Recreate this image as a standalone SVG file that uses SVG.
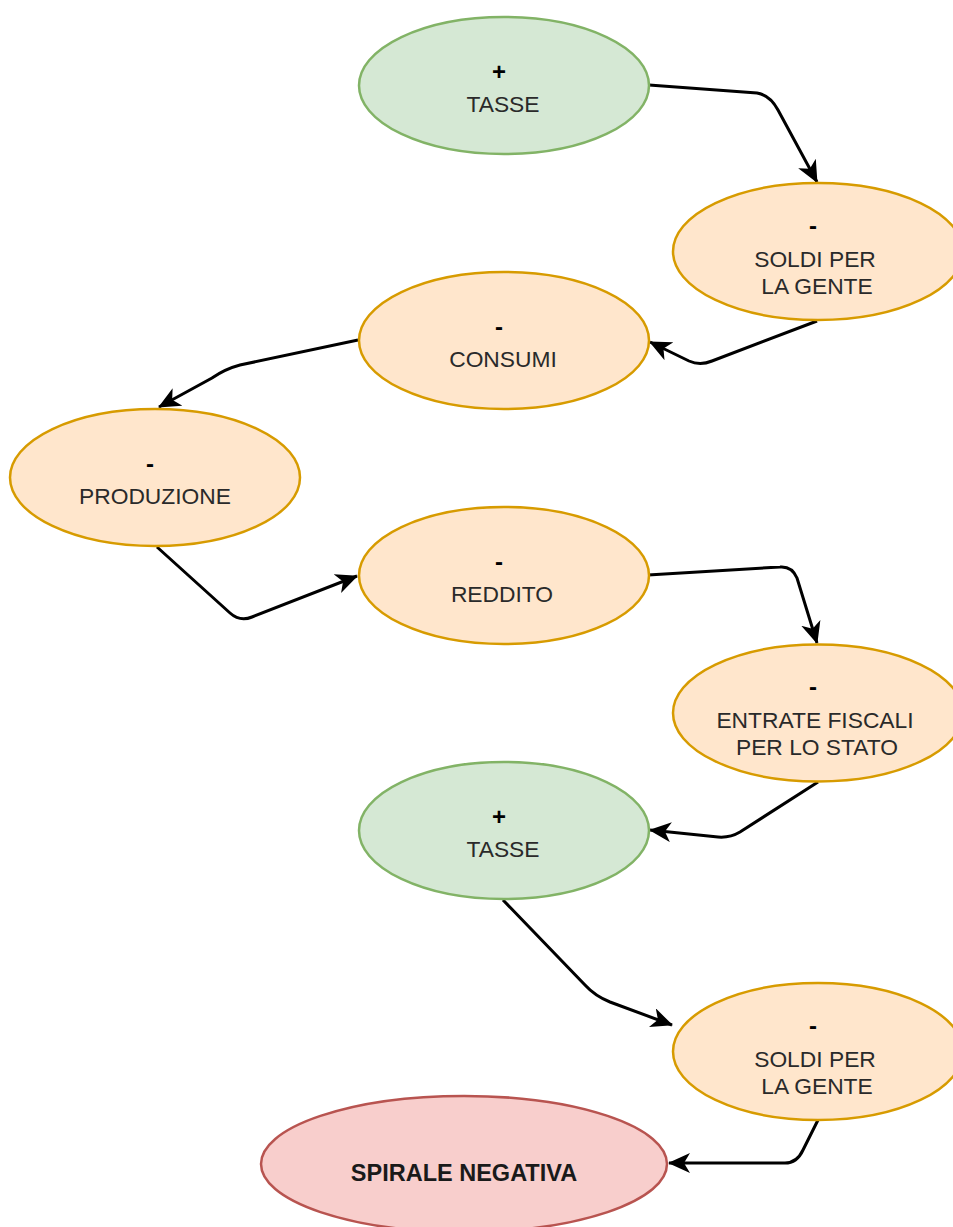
<svg xmlns="http://www.w3.org/2000/svg" width="953" height="1227" viewBox="0 0 953 1227">
<style>
.g{fill:#d5e8d4;stroke:#82b366;stroke-width:2.5}
.o{fill:#ffe6cc;stroke:#d79b00;stroke-width:2.5}
.r{fill:#f8cecc;stroke:#b85450;stroke-width:2.5}
.t{font-family:"Liberation Sans",Arial,sans-serif;font-size:22.8px;fill:#2a2a2a;text-anchor:middle}
.s{font-family:"Liberation Sans",Arial,sans-serif;font-size:24px;font-weight:bold;fill:#000;text-anchor:middle}
.b{font-family:"Liberation Sans",Arial,sans-serif;font-size:23.5px;font-weight:bold;fill:#1a1a1a;text-anchor:middle}
.e{fill:none;stroke:#000;stroke-width:3;marker-end:url(#a)}
</style>
<defs>
<marker id="a" markerUnits="userSpaceOnUse" viewBox="0 0 22 20" refX="21" refY="10" markerWidth="22" markerHeight="20" orient="auto">
<path d="M0,0 L22,10 L0,20 L6,10 Z" fill="#000"/>
</marker>
</defs>
<g id="connectors">
<path class="e" d="M649,85 L757,93 Q770,95 778,110 L817,182"/>
<path class="e" d="M817,321 L712,361 Q700,366 689,361 L650,342"/>
<path class="e" d="M358,340 L240,365 Q225,369 212,378 L159,407"/>
<path class="e" d="M157,547 L230,613 Q240,622 252,617 L357,576"/>
<path class="e" d="M648,575 L780,567 Q792,566 797,578 L817,643"/>
<path class="e" d="M818,782 L740,832 Q730,838 718,837 L650,830"/>
<path class="e" d="M503,900 L585,985 Q595,996 610,1002 L672,1025"/>
<path class="e" d="M818,1120 L803,1150 Q797,1163 785,1163 L669,1163"/>
</g>
<g id="n1"><ellipse class="g" cx="504" cy="85.5" rx="145" ry="68.5"/><text class="s" x="499" y="80">+</text><text class="t" x="503" y="111.5">TASSE</text></g>
<g id="n2"><ellipse class="o" cx="818" cy="251.5" rx="145" ry="68.5"/><text class="s" x="813" y="233.5">-</text><text class="t" x="815" y="266.5">SOLDI PER</text><text class="t" x="817" y="293.5">LA GENTE</text></g>
<g id="n3"><ellipse class="o" cx="504" cy="340.5" rx="145" ry="68.5"/><text class="s" x="499" y="334.5">-</text><text class="t" x="503" y="367">CONSUMI</text></g>
<g id="n4"><ellipse class="o" cx="155" cy="477.5" rx="145" ry="68.5"/><text class="s" x="150" y="471.5">-</text><text class="t" x="155" y="504">PRODUZIONE</text></g>
<g id="n5"><ellipse class="o" cx="504" cy="575.5" rx="145" ry="68.5"/><text class="s" x="499" y="569.5">-</text><text class="t" x="502" y="602">REDDITO</text></g>
<g id="n6"><ellipse class="o" cx="818" cy="713" rx="145" ry="68.5"/><text class="s" x="813" y="695">-</text><text class="t" x="815" y="728">ENTRATE FISCALI</text><text class="t" x="817" y="755">PER LO STATO</text></g>
<g id="n7"><ellipse class="g" cx="504" cy="830.5" rx="145" ry="68.5"/><text class="s" x="499" y="825">+</text><text class="t" x="503" y="856.5">TASSE</text></g>
<g id="n8"><ellipse class="o" cx="818" cy="1051.5" rx="145" ry="68.5"/><text class="s" x="813" y="1033.5">-</text><text class="t" x="815" y="1066.5">SOLDI PER</text><text class="t" x="817" y="1093.5">LA GENTE</text></g>
<g id="n9"><ellipse class="r" cx="464" cy="1164" rx="203" ry="68"/><text class="b" x="464" y="1181">SPIRALE NEGATIVA</text></g>
</svg>
